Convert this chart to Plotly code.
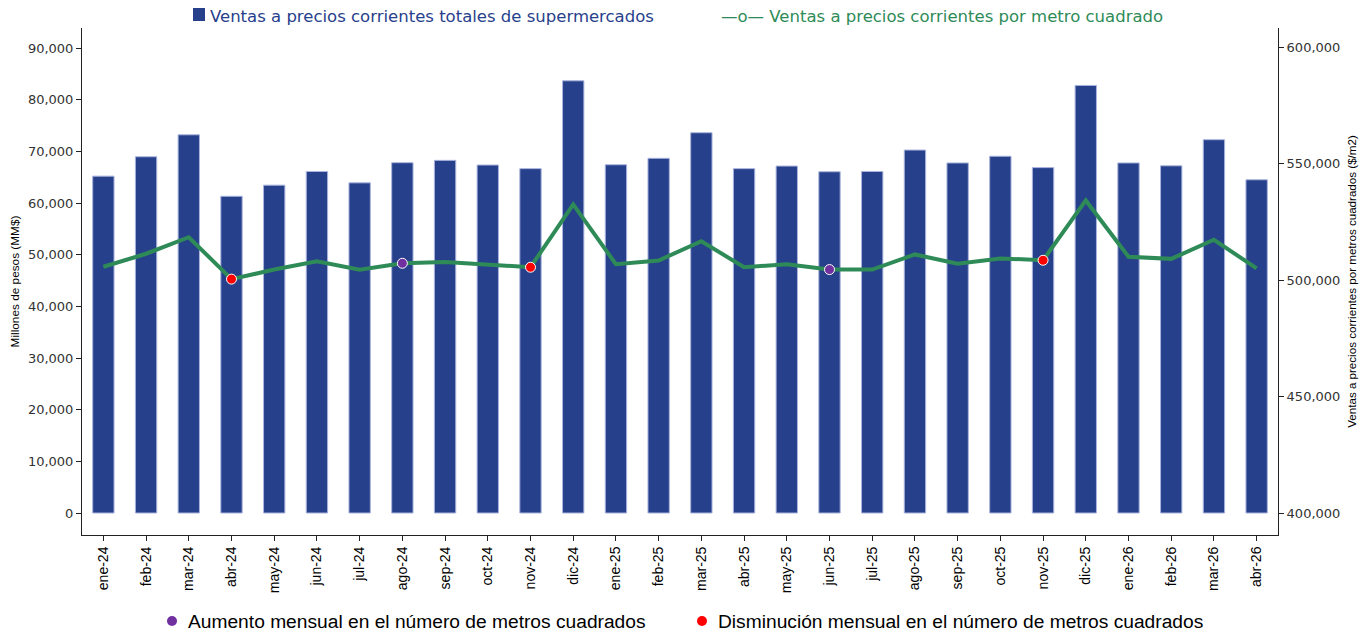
import plotly.graph_objects as go

meses = ["ene-24","feb-24","mar-24","abr-24","may-24","jun-24","jul-24","ago-24","sep-24","oct-24","nov-24","dic-24",
         "ene-25","feb-25","mar-25","abr-25","may-25","jun-25","jul-25","ago-25","sep-25","oct-25","nov-25","dic-25",
         "ene-26","feb-26","mar-26","abr-26"]

ventas_totales = [65200, 68950, 73200, 61300, 63450, 66100, 63900, 67800, 68250, 67350, 66650, 83650,
                  67400, 68650, 73600, 66650, 67150, 66050, 66100, 70250, 67750, 69050, 66850, 82750,
                  67750, 67200, 72250, 64500]

ventas_m2 = [505800, 511400, 518500, 500500, 504600, 508200, 504500, 507300, 507900, 506800, 505600, 532600,
             506900, 508500, 516800, 505600, 506900, 504600, 504600, 511100, 507100, 509400, 508600, 534300,
             510100, 509200, 517400, 505100]

aumento_meses = ["ago-24", "jun-25"]
disminucion_meses = ["abr-24", "nov-24", "nov-25"]

BAR_COLOR = "#27408B"
LINE_COLOR = "#2E8B57"
PURPLE = "#7030A0"
RED = "#FF0000"
NARROW = "Liberation Sans, Arial, sans-serif"
WIDE = "DejaVu Sans, Verdana, sans-serif"

fig = go.Figure()
fig.add_trace(go.Bar(x=meses, y=ventas_totales, marker=dict(color=BAR_COLOR, line=dict(color="#aab4dd", width=1)),
                     width=0.5, showlegend=False))
fig.add_trace(go.Scatter(x=meses, y=ventas_m2, mode="lines", line=dict(color=LINE_COLOR, width=4),
                         yaxis="y2", showlegend=False))
idx_a = [meses.index(m) for m in aumento_meses]
idx_d = [meses.index(m) for m in disminucion_meses]
fig.add_trace(go.Scatter(x=aumento_meses, y=[ventas_m2[i] for i in idx_a], mode="markers", yaxis="y2",
                         marker=dict(color=PURPLE, size=10, line=dict(color="white", width=1)), showlegend=False))
fig.add_trace(go.Scatter(x=disminucion_meses, y=[ventas_m2[i] for i in idx_d], mode="markers", yaxis="y2",
                         marker=dict(color=RED, size=10, line=dict(color="white", width=1)), showlegend=False))

OFF = 8  # page body margin
W, H = 1371 - OFF, 633 - OFF
L, R, T, B = 82 - OFF, 1278 - OFF, 28 - OFF, 535 - OFF
def px(x): return (x - OFF - L) / (R - L)
def py(y): return (B - (y - OFF)) / (B - T)

shapes = [
    dict(type="rect", xref="paper", yref="paper", x0=px(193), x1=px(205), y0=py(21), y1=py(8),
         fillcolor=BAR_COLOR, line=dict(width=0)),
    dict(type="circle", xref="paper", yref="paper", x0=px(167), x1=px(177), y0=py(626), y1=py(616),
         fillcolor=PURPLE, line=dict(width=0)),
    dict(type="circle", xref="paper", yref="paper", x0=px(697), x1=px(707), y0=py(626), y1=py(616),
         fillcolor=RED, line=dict(width=0)),
]
annotations = [
    dict(text="Ventas a precios corrientes totales de supermercados", xref="paper", yref="paper",
         x=px(208), y=py(16), xanchor="left", yanchor="middle", showarrow=False,
         font=dict(family=WIDE, size=16.5, color=BAR_COLOR)),
    dict(text="—o— Ventas a precios corrientes por metro cuadrado", xref="paper", yref="paper",
         x=px(719), y=py(16), xanchor="left", yanchor="middle", showarrow=False,
         font=dict(family=WIDE, size=16.5, color=LINE_COLOR)),
    dict(text="Aumento mensual en el número de metros cuadrados", xref="paper", yref="paper",
         x=px(186), y=py(621), xanchor="left", yanchor="middle", showarrow=False,
         font=dict(family=NARROW, size=19.2, color="black")),
    dict(text="Disminución mensual en el número de metros cuadrados", xref="paper", yref="paper",
         x=px(716), y=py(621), xanchor="left", yanchor="middle", showarrow=False,
         font=dict(family=NARROW, size=19.2, color="black")),
]

fig.update_layout(
    width=W, height=H, margin=dict(l=L, r=W - R, t=T, b=H - B),
    paper_bgcolor="white", plot_bgcolor="white", bargap=0.5,
    shapes=shapes, annotations=annotations,
    xaxis=dict(range=[-0.5, 27.5], automargin=False, showline=True, linecolor="#222", linewidth=1,
               ticks="outside", ticklen=5, tickcolor="#222", tickangle=-90,
               tickfont=dict(family=NARROW, size=14, color="black"), showgrid=False, zeroline=False),
    yaxis=dict(range=[-4258, 93870], tickvals=[0,10000,20000,30000,40000,50000,60000,70000,80000,90000],
               automargin=False, tickformat=",d", showline=True, linecolor="#222", linewidth=1, ticks="outside",
               ticklen=5, tickcolor="#222", tickfont=dict(family=WIDE, size=13, color="#333"), showgrid=False,
               zeroline=False,
               title=dict(text="Millones de pesos (MM$)", font=dict(family=NARROW, size=11.8, color="black"),
                          standoff=10)),
    yaxis2=dict(range=[390546, 608400], tickvals=[400000,450000,500000,550000,600000], tickformat=",d",
                automargin=False, overlaying="y", side="right", showline=True, linecolor="#222", linewidth=1,
                ticks="outside", ticklen=5, tickcolor="#222", tickfont=dict(family=WIDE, size=13, color="#333"),
                showgrid=False, zeroline=False,
                title=dict(text="Ventas a precios corrientes por metros cuadrados ($/m2)",
                           font=dict(family=NARROW, size=11.6, color="black"), standoff=8)),
)

fig.write_html("out.html")
